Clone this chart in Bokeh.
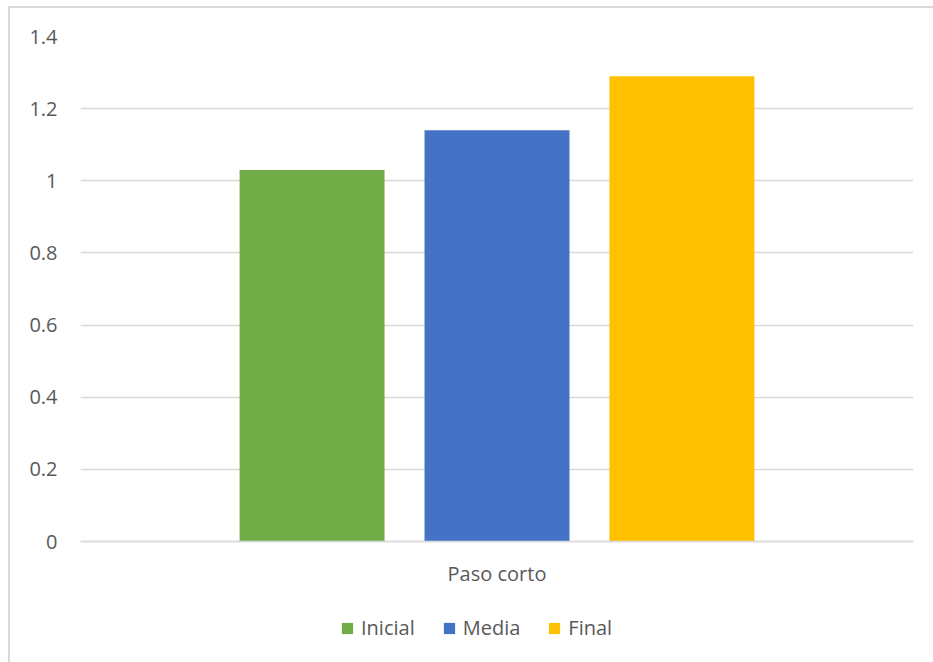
from bokeh.plotting import figure
from bokeh.models import FactorRange, Range1d, FixedTicker, Legend, LegendItem, InlineStyleSheet
from bokeh.transform import dodge
from bokeh.embed import file_html
from bokeh.resources import INLINE

category = ["Paso corto"]
series = ["Inicial", "Media", "Final"]
values = [1.03, 1.14, 1.29]
colors = ["#70AD47", "#4472C4", "#FFC000"]
y_ticks = [0, 0.2, 0.4, 0.6, 0.8, 1, 1.2, 1.4]
y_labels = ["0", "0.2", "0.4", "0.6", "0.8", "1", "1.2", "1.4"]

FONT = "Open Sans"
TXT = "#595959"
GRID = "#d9d9d9"

# plot area: value axis 0..1.4 over 505 px, with 121 px of room kept below zero
px_per_unit = 505 / 1.4
y_bottom = -121 / px_per_unit

p = figure(width=933, height=662, output_backend="svg", toolbar_location=None,
           x_range=FactorRange(factors=category, range_padding=0),
           y_range=Range1d(y_bottom, 1.4),
           min_border_left=80, min_border_right=20, min_border_top=36, min_border_bottom=0)
p.frame_width = 833
p.frame_height = 626
p.outline_line_color = None
p.background_fill_color = "white"
p.border_fill_color = "white"

offsets = [-0.222, 0.0, 0.222]
renderers = []
for name, val, col, off in zip(series, values, colors, offsets):
    r = p.vbar(x=dodge("x", off, range=p.x_range), top="top", bottom=0, width=0.174,
               source={"x": category, "top": [val]}, fill_color=col, line_color=None)
    renderers.append((name, r))

p.yaxis.ticker = FixedTicker(ticks=y_ticks)
p.yaxis.major_label_overrides = {t: l for t, l in zip(y_ticks, y_labels)}
p.yaxis.axis_line_color = None
p.yaxis.major_tick_line_color = None
p.yaxis.minor_tick_line_color = None
p.yaxis.major_tick_out = 0
p.yaxis.major_label_standoff = 23
p.yaxis.major_label_text_font = FONT
p.yaxis.major_label_text_font_size = "20px"
p.yaxis.major_label_text_color = TXT

p.xaxis.fixed_location = 0
p.xaxis.axis_line_color = GRID
p.xaxis.axis_line_width = 1.5
p.xaxis.major_tick_line_color = None
p.xaxis.major_tick_out = 0
p.xaxis.major_label_standoff = 18
p.xaxis.major_label_text_font = FONT
p.xaxis.major_label_text_font_size = "20px"
p.xaxis.major_label_text_color = TXT

p.xgrid.grid_line_color = None
p.ygrid.grid_line_color = GRID
p.ygrid.grid_line_width = 1.5

legend = Legend(items=[LegendItem(label=n, renderers=[r]) for n, r in renderers],
                orientation="horizontal", location=(260, 21),
                glyph_width=14, glyph_height=14, label_standoff=7, spacing=27,
                padding=0, margin=0, border_line_color=None, background_fill_alpha=0,
                label_text_font=FONT, label_text_font_size="20px", label_text_color=TXT)
p.add_layout(legend, "center")

p.stylesheets = [InlineStyleSheet(css="""
:host { position: relative; }
:host::after { content: ""; position: absolute; left: 8px; top: 6px; right: -10px; bottom: -10px;
  border-left: 2px solid #d9d9d9; border-top: 2px solid #d9d9d9; pointer-events: none; z-index: 10; }
""")]

open("out.html", "w").write(file_html(p, INLINE))
